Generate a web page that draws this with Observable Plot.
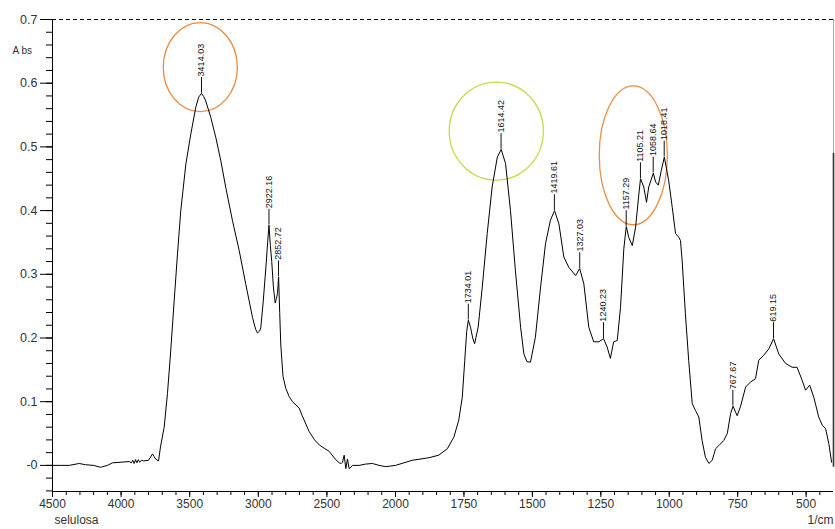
<!DOCTYPE html>
<html>
<head>
<meta charset="utf-8">
<script src="https://cdn.jsdelivr.net/npm/d3@7"></script>
<script src="https://cdn.jsdelivr.net/npm/@observablehq/plot@0.6"></script>
<style>
  body { margin: 0; background: #fff; }
  #chart { width: 835px; height: 529px; }
</style>
</head>
<body>
<div id="chart"></div>
<script>
// ---- Spectrum (wavenumber in 1/cm, absorbance) ----
const wavenumber = [4500,4440,4378,4305,4259,4200,4150,4100,4063,4000,3941,3925,3915,3905,3895,3885,3875,3865,3850,3835,3800,3785,3771,3760,3749,3727,3713,3686,3662,3638,3613,3589,3565,3528,3492,3456,3435,3414,3398,3383,3346,3310,3273,3237,3188,3139,3091,3042,3020,3006,2990,2982,2965,2945,2932,2922,2912,2902,2890,2877,2868,2860,2852,2844,2836,2820,2800,2775,2751,2702,2680,2629,2590,2555,2520,2483,2440,2410,2395,2386,2374,2362,2350,2338,2326,2313,2265,2220,2168,2120,2071,2000,1939,1878,1842,1811,1787,1769,1756,1747,1740,1734,1726,1718,1711,1698,1683,1665,1647,1628,1614,1598,1580,1562,1543,1531,1520,1507,1489,1470,1452,1434,1419,1403,1385,1367,1342,1327,1312,1294,1276,1257,1240,1227,1215,1203,1190,1178,1166,1157,1148,1135,1123,1111,1105,1093,1083,1075,1058,1050,1040,1029,1018,1002,989,977,965,959,953,941,929,916,904,892,880,868,855,843,831,819,801,788,776,767,752,740,721,703,685,673,655,636,619,600,575,551,533,514,502,487,472,454,441,429,417,407];
const absorbance = [0,0,0,0.003,0.001,0,-0.003,0,0.004,0.005,0.006,0.004,0.008,0.003,0.009,0.004,0.009,0.005,0.008,0.007,0.008,0.013,0.018,0.014,0.010,0.007,0.029,0.060,0.113,0.181,0.259,0.332,0.400,0.473,0.520,0.562,0.578,0.584,0.579,0.572,0.546,0.515,0.478,0.436,0.384,0.337,0.284,0.232,0.214,0.208,0.211,0.216,0.255,0.310,0.350,0.377,0.345,0.320,0.280,0.255,0.262,0.270,0.296,0.240,0.189,0.140,0.121,0.108,0.100,0.090,0.078,0.053,0.040,0.032,0.027,0.022,0.010,0.004,0.003,0.005,0.016,-0.005,0.010,-0.005,-0.003,0,0,0.002,0.003,0,-0.002,0,0.008,0.012,0.016,0.026,0.044,0.071,0.107,0.165,0.210,0.228,0.217,0.200,0.191,0.217,0.280,0.364,0.437,0.484,0.496,0.474,0.400,0.306,0.217,0.175,0.163,0.162,0.201,0.280,0.348,0.385,0.400,0.379,0.327,0.311,0.298,0.309,0.285,0.217,0.194,0.194,0.199,0.186,0.168,0.194,0.196,0.248,0.340,0.375,0.358,0.345,0.374,0.426,0.450,0.437,0.413,0.437,0.459,0.445,0.440,0.463,0.484,0.447,0.405,0.364,0.358,0.353,0.322,0.238,0.165,0.097,0.086,0.076,0.039,0.013,0.003,0.008,0.026,0.031,0.039,0.050,0.081,0.093,0.078,0.092,0.123,0.131,0.136,0.165,0.173,0.183,0.199,0.175,0.160,0.154,0.154,0.133,0.118,0.126,0.107,0.076,0.063,0.058,0.034,0.005];

// ---- Peak annotations ----
const peakWavenumber = [3414.03,2922.16,2852.72,1734.01,1614.42,1419.61,1327.03,1240.23,1157.29,1105.21,1058.64,1018.41,767.67,619.15];
const peakAbsorbance = [0.584,0.377,0.296,0.228,0.496,0.400,0.309,0.199,0.375,0.450,0.459,0.484,0.093,0.199];
const peakLabel = ["3414.03","2922.16","2852.72","1734.01","1614.42","1419.61","1327.03","1240.23","1157.29","1105.21","1058.64","1018.41","767.67","619.15"];

// ---- Highlight ellipses (bounding boxes in data units) ----
const highlightFrom = [3689, 1802, 1254];
const highlightTo = [3149, 1458, 1005];
const highlightLow = [0.5545, 0.447, 0.377];
const highlightHigh = [0.6942, 0.601, 0.595];
const highlightColors = ["#ea8a3e", "#c9d84c", "#ea8f42"];

// ---- Axis ticks ----
const xTickValues = [4500,4000,3500,3000,2500,2000,1750,1500,1250,1000,750,500];
const yTickValues = [0,0.1,0.2,0.3,0.4,0.5,0.6,0.7];
const xMinor = d3.range(4500, 2000, -100).concat(d3.range(2000, 400, -50));
const yMinor = d3.range(-2, 36).map(i => i * 0.02);

const spectrum = wavenumber.map((w, i) => ({w, a: absorbance[i]}));
const peaks = peakWavenumber.map((w, i) => ({w, a: peakAbsorbance[i], label: peakLabel[i]}));
const highlights = highlightFrom.map((f, i) => ({from: f, to: highlightTo[i], low: highlightLow[i], high: highlightHigh[i], color: highlightColors[i]}));

const tickLine = { draw(context, l) { context.moveTo(0, 0); context.lineTo(0, -l); } };

function ellipseMark(index, scales) {
  const ns = "http://www.w3.org/2000/svg";
  const g = document.createElementNS(ns, "g");
  for (const h of highlights) {
    const x1 = scales.x(h.from), x2 = scales.x(h.to);
    const y1 = scales.y(h.low), y2 = scales.y(h.high);
    const e = document.createElementNS(ns, "ellipse");
    e.setAttribute("cx", (x1 + x2) / 2);
    e.setAttribute("cy", (y1 + y2) / 2);
    e.setAttribute("rx", Math.abs(x2 - x1) / 2);
    e.setAttribute("ry", Math.abs(y2 - y1) / 2);
    e.setAttribute("fill", "none");
    e.setAttribute("stroke", h.color);
    e.setAttribute("stroke-width", 1.3);
    g.appendChild(e);
  }
  return g;
}

const fmtY = d => (Math.abs(d) < 1e-9 ? "-0" : d.toFixed(1));

const chart = Plot.plot({
  width: 835,
  height: 529,
  marginLeft: 52,
  marginRight: 2,
  marginTop: 19,
  marginBottom: 38,
  style: { fontFamily: "'Liberation Sans', Arial, sans-serif", background: "#fff", color: "#000" },
  x: { type: "linear", domain: [4500, 2000, 400], range: [52, 395, 833] },
  y: { domain: [-0.041, 0.7], range: [491, 19] },
  marks: [
    Plot.ruleY([0.7], { stroke: "#000", strokeDasharray: "4,3", strokeWidth: 1 }),
    Plot.ruleX([400], { y1: 0.49, y2: 0.7, stroke: "#aaa", strokeWidth: 1 }),
    Plot.ruleX([400], { y1: -0.003, y2: 0.49, stroke: "#333", strokeWidth: 1.6 }),
    ellipseMark,
    Plot.line(spectrum, { x: "w", y: "a", stroke: "#000", strokeWidth: 1 }),
    Plot.vector(peaks, { x: "w", y: "a", length: 15, rotate: 0, anchor: "start", shape: tickLine, stroke: "#111", strokeWidth: 1, dy: -1 }),
    Plot.text(peaks, { x: "w", y: "a", text: "label", rotate: -90, textAnchor: "start", dy: -17, fontSize: 9, fill: "#111" }),
    Plot.ruleX([4500], { stroke: "#000", strokeWidth: 1 }),
    Plot.ruleY([-0.041], { stroke: "#000", strokeWidth: 1 }),
    Plot.axisY({ ticks: yTickValues, tickSize: 12, tickPadding: 3, tickFormat: fmtY, fontSize: 12.5, fill: "#333", label: null }),
    Plot.axisY({ ticks: yMinor, tickSize: 6, tickFormat: () => "", label: null }),
    Plot.axisX({ ticks: xTickValues, tickSize: 6, tickPadding: 2, tickFormat: d => String(d), fontSize: 12, fill: "#333", label: null }),
    Plot.axisX({ ticks: xMinor, tickSize: 4, tickFormat: () => "", label: null }),
    Plot.text(["A bs"], { text: d => d, frameAnchor: "top-left", dx: -40, dy: 27, textAnchor: "start", fontSize: 10, fill: "#333" }),
    Plot.text(["selulosa"], { text: d => d, frameAnchor: "bottom-left", dx: 2, dy: 32, textAnchor: "start", fontSize: 12, fill: "#333" }),
    Plot.text(["1/cm"], { text: d => d, frameAnchor: "bottom-right", dx: 0, dy: 32, textAnchor: "end", fontSize: 12, fill: "#333" })
  ]
});
document.getElementById("chart").appendChild(chart);
</script>
</body>
</html>
